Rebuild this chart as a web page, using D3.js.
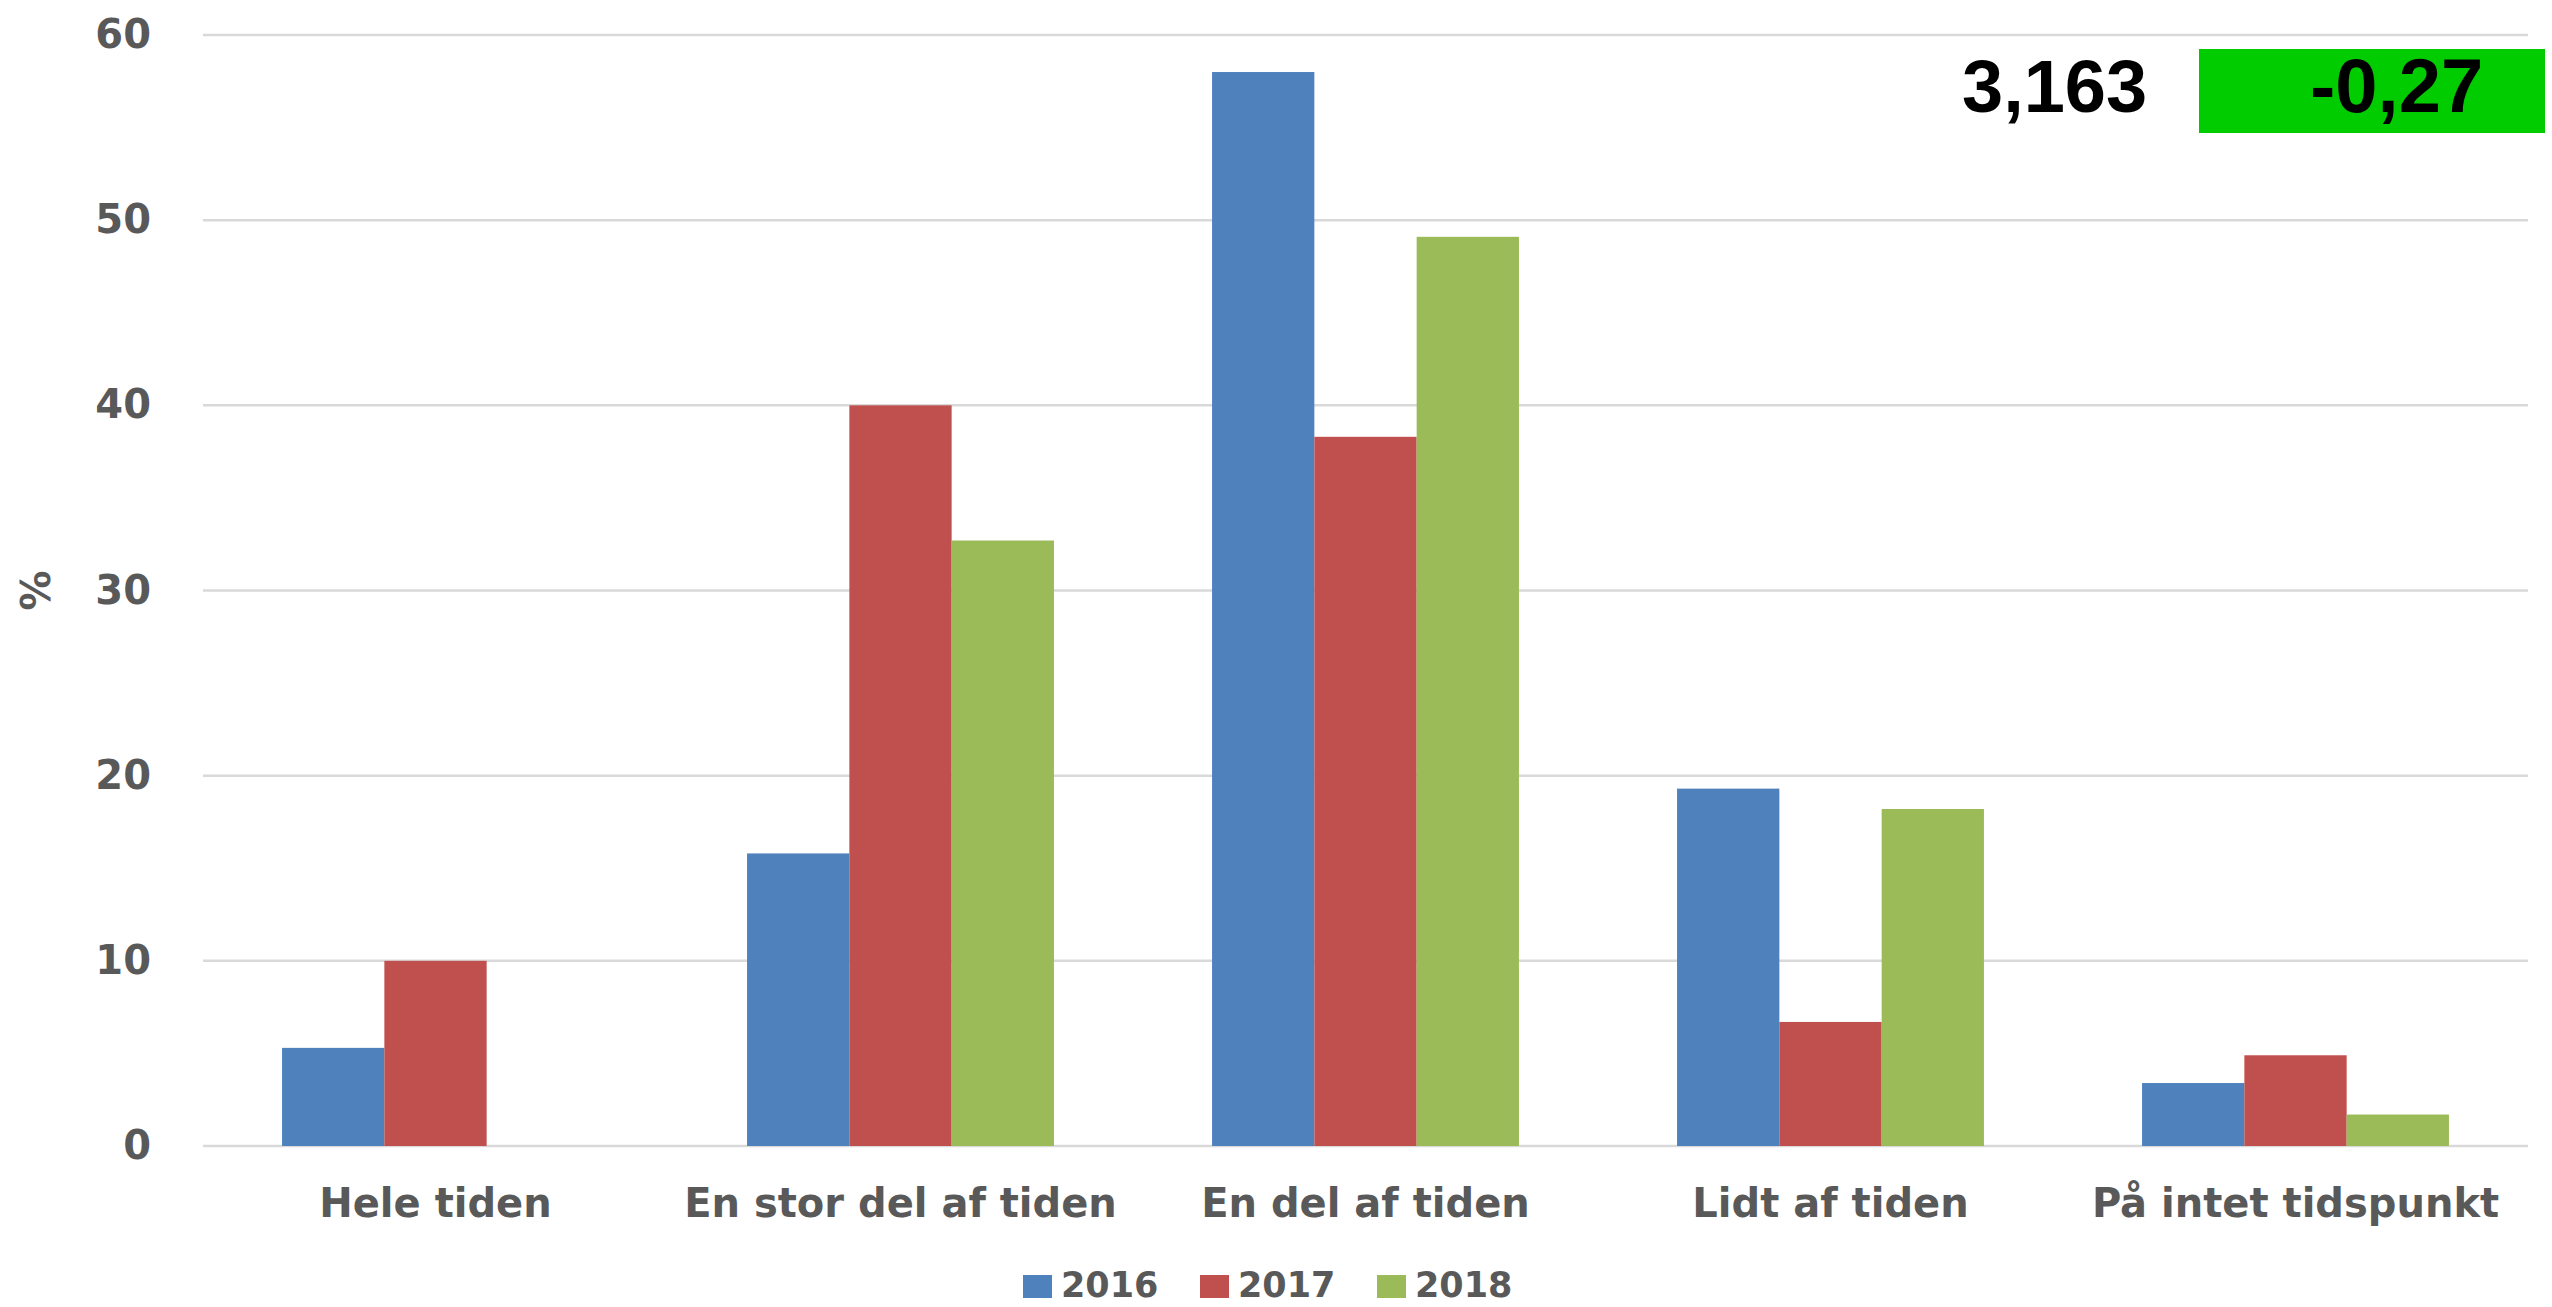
<!DOCTYPE html>
<html>
<head>
<meta charset="utf-8">
<script src="https://cdn.jsdelivr.net/npm/d3@7"></script>
<style>
  html, body { margin: 0; padding: 0; background: #ffffff; }
  svg { display: block; }
</style>
</head>
<body>
<svg id="chart" width="2552" height="1307"></svg>
<script>
// ---- Data ----
const categories = ["Hele tiden", "En stor del af tiden", "En del af tiden", "Lidt af tiden", "På intet tidspunkt"];
const seriesNames = ["2016", "2017", "2018"];
const values2016 = [5.3, 15.8, 58.0, 19.3, 3.4];
const values2017 = [10.0, 40.0, 38.3, 6.7, 4.9];
const values2018 = [0, 32.7, 49.1, 18.2, 1.7];
const yTicks = [0, 10, 20, 30, 40, 50, 60];
const yAxisLabel = "%";
const scoreValue = "3,163";
const changeValue = "-0,27";

const seriesValues = [values2016, values2017, values2018];
const colors = ["#4F81BD", "#C0504D", "#9BBB59"];

const svg = d3.select("#chart");
const plotLeft = 203, plotRight = 2528, plotTop = 35, plotBottom = 1146;
const font = "'DejaVu Sans', Verdana, sans-serif";
const textColor = "#595959";

const x = d3.scaleBand().domain(categories).range([plotLeft, plotRight])
  .paddingInner(0.34).paddingOuter(0.17);
const xs = d3.scaleBand().domain(seriesNames).range([0, x.bandwidth()]);
const y = d3.scaleLinear().domain([0, 60]).range([plotBottom, plotTop]);

// gridlines
svg.append("g").selectAll("line").data(yTicks).join("line")
  .attr("x1", plotLeft).attr("x2", plotRight)
  .attr("y1", d => y(d)).attr("y2", d => y(d))
  .attr("stroke", "#d9d9d9").attr("stroke-width", 2.5);

// y tick labels
svg.append("g").selectAll("text").data(yTicks).join("text")
  .attr("x", 151).attr("y", d => y(d) + 13)
  .attr("text-anchor", "end")
  .attr("font-family", font).attr("font-weight", "bold").attr("font-size", 40)
  .attr("fill", textColor)
  .text(d => d);

// y axis label
svg.append("text")
  .attr("transform", `translate(50, ${(plotTop + plotBottom) / 2}) rotate(-90)`)
  .attr("text-anchor", "middle")
  .attr("font-family", font).attr("font-weight", "bold").attr("font-size", 40)
  .attr("fill", textColor)
  .text(yAxisLabel);

// bars
const barData = [];
categories.forEach((c, i) => {
  seriesNames.forEach((s, j) => {
    barData.push({ cat: c, series: s, value: seriesValues[j][i], color: colors[j] });
  });
});
svg.append("g").selectAll("rect").data(barData).join("rect")
  .attr("x", d => x(d.cat) + xs(d.series))
  .attr("width", xs.bandwidth())
  .attr("y", d => y(d.value))
  .attr("height", d => y(0) - y(d.value))
  .attr("fill", d => d.color);

// category labels
svg.append("g").selectAll("text").data(categories).join("text")
  .attr("x", d => x(d) + x.bandwidth() / 2)
  .attr("y", 1217)
  .attr("text-anchor", "middle")
  .attr("font-family", font).attr("font-weight", "bold").attr("font-size", 40)
  .attr("fill", textColor)
  .text(d => d);

// legend
const legendX0 = 1023, legendStep = 177;
const lg = svg.append("g").selectAll("g").data(seriesNames).join("g")
  .attr("transform", (d, i) => `translate(${legendX0 + i * legendStep}, 0)`);
lg.append("rect").attr("x", 0).attr("y", 1275).attr("width", 29).attr("height", 23)
  .attr("fill", (d, i) => colors[i]);
lg.append("text").attr("x", 38).attr("y", 1297)
  .attr("font-family", font).attr("font-weight", "bold").attr("font-size", 35)
  .attr("fill", textColor)
  .text(d => d);

// score annotations
svg.append("text")
  .attr("x", 1962).attr("y", 112)
  .attr("font-family", "'Liberation Sans', Arial, sans-serif")
  .attr("font-weight", "bold").attr("font-size", 74)
  .attr("fill", "#000000")
  .text(scoreValue);

svg.append("rect")
  .attr("x", 2199).attr("y", 49).attr("width", 346).attr("height", 84)
  .attr("fill", "#00CC00");
svg.append("text")
  .attr("x", 2310).attr("y", 112)
  .attr("font-family", "'Liberation Sans Narrow', 'Liberation Sans', Arial, sans-serif")
  .attr("font-weight", "bold").attr("font-size", 76)
  .attr("fill", "#000000")
  .text(changeValue);
</script>
</body>
</html>
